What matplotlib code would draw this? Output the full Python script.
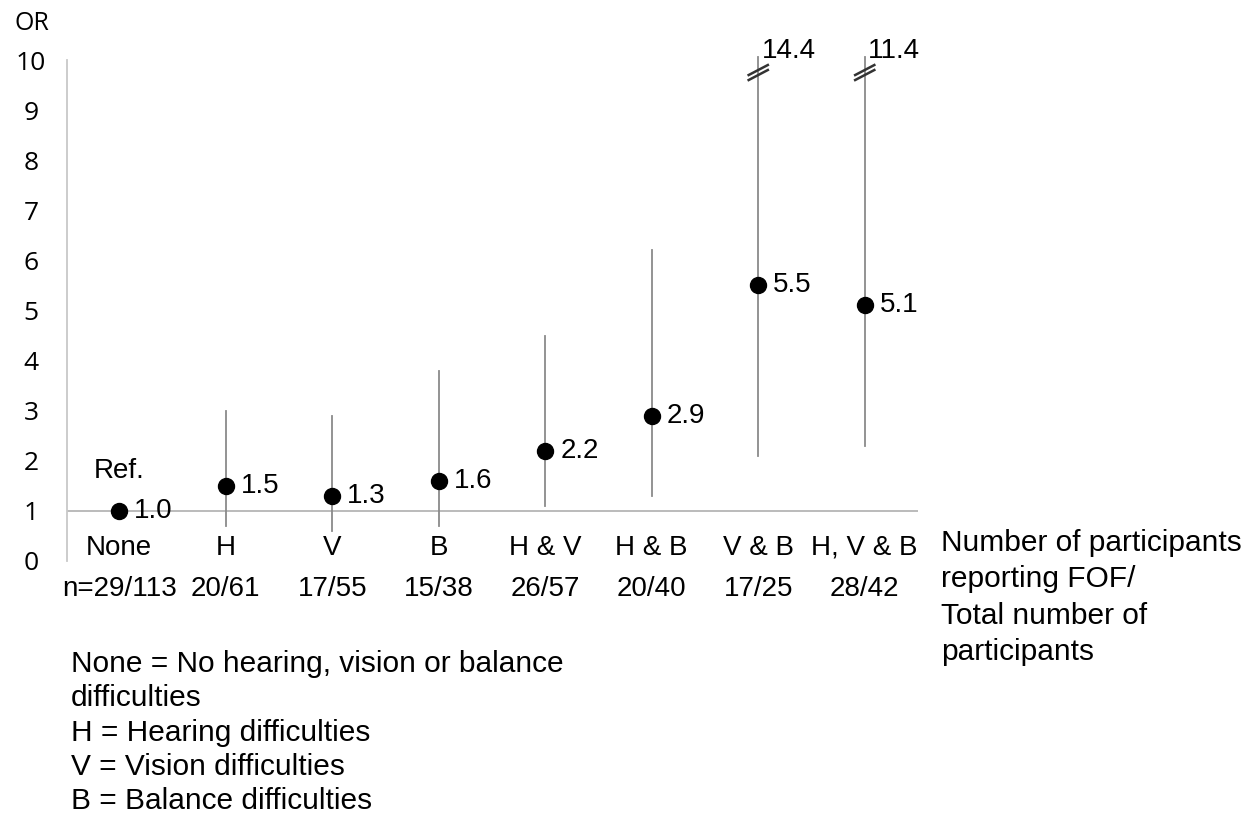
import matplotlib
matplotlib.use("Agg")
import matplotlib.pyplot as plt

categories = ["None", "H", "V", "B", "H & V", "H & B", "V & B", "H, V & B"]
counts = ["n=29/113", "20/61", "17/55", "15/38", "26/57", "20/40", "17/25", "28/42"]
odds_ratio = [1.0, 1.5, 1.3, 1.6, 2.2, 2.9, 5.5, 5.1]
ci_lower = [None, 0.7, 0.6, 0.7, 1.1, 1.3, 2.1, 2.3]
ci_upper = [None, 3.0, 2.9, 3.8, 4.5, 6.2, 14.4, 11.4]
y_max = 10

W, H = 1259, 818
fig = plt.figure(figsize=(W / 100, H / 100), dpi=100)
ax_left, ax_right = 67 / W, 918 / W
ax_bottom, ax_top = (H - 561) / H, (H - 60) / H
ax = fig.add_axes([ax_left, ax_bottom, ax_right - ax_left, ax_top - ax_bottom])

sans = ["Liberation Sans", "DejaVu Sans"]
tickfont = ["Open Sans", "DejaVu Sans"]

x = list(range(len(categories)))
ax.set_xlim(-0.49, 7.5)
ax.set_ylim(0, y_max)

for s in ["top", "right", "bottom"]:
    ax.spines[s].set_visible(False)
ax.spines["left"].set_color("#c8c8c8")
ax.spines["left"].set_linewidth(1.3)
ax.spines["left"].set_bounds(0.0, 10)

ax.axhline(1.0, color="#b5b5b5", lw=1.3, zorder=1)

ax.set_xticks([])
ax.set_yticks(range(0, 11))
ax.set_yticklabels([str(v) for v in range(0, 11)], fontfamily=tickfont, fontsize=19)
ax.tick_params(axis="y", length=0, pad=26)
for lab in ax.get_yticklabels():
    lab.set_horizontalalignment("center")

for xi, orv, lo, hi in zip(x, odds_ratio, ci_lower, ci_upper):
    if lo is not None:
        top = min(hi, y_max + 0.05)
        ax.plot([xi, xi], [lo, top], color="#8a8a8a", lw=1.3, zorder=2, clip_on=False)
        if hi > y_max:
            for dy in (0.0, 0.1):
                ax.plot([xi - 0.09, xi + 0.09], [9.6 + dy, 9.8 + dy],
                        color="#333333", lw=1.8, zorder=3, clip_on=False)
            ax.text(xi + 0.03, 10.17, f"{hi:.1f}", fontsize=20, fontfamily=sans,
                    ha="left", va="center", clip_on=False)
    ax.plot(xi, orv, "o", color="black", ms=11.5, zorder=4, clip_on=False)
    ax.text(xi + 0.14, orv, f"{orv:.1f}", fontsize=20, fontfamily=sans,
            ha="left", va="center")

ax.text(0, 1.79, "Ref.", fontsize=20, fontfamily=sans, ha="center", va="center")

for xi, cat, cnt in zip(x, categories, counts):
    ax.text(xi, 0.26, cat, fontsize=20, fontfamily=sans, ha="center", va="center", clip_on=False)
    ax.text(xi, -0.56, cnt, fontsize=20, fontfamily=sans, ha="center", va="center", clip_on=False)

fig.text(14 / W, 1 - 24 / H, "OR", fontsize=18, fontfamily=tickfont, ha="left", va="center")

fig.text(941 / W, 1 - 529 / H,
         "Number of participants\nreporting FOF/\nTotal number of\nparticipants",
         fontsize=21.5, fontfamily=sans, ha="left", va="top", linespacing=1.38)

legend_lines = ["None = No hearing, vision or balance", "difficulties",
                "H = Hearing difficulties", "V = Vision difficulties",
                "B = Balance difficulties"]
for i, line in enumerate(legend_lines):
    fig.text(71 / W, 1 - (664 + 34.3 * i) / H, line, fontsize=21.5,
             fontfamily=sans, ha="left", va="center")

fig.savefig("out.png", dpi=100)
